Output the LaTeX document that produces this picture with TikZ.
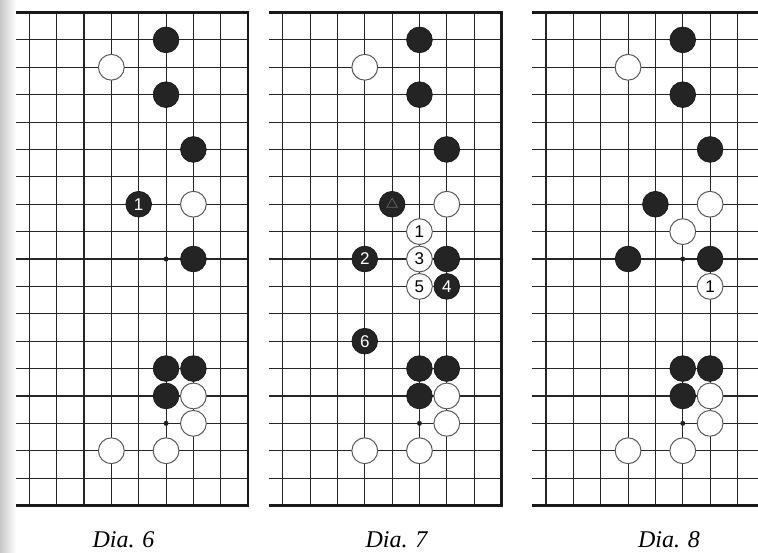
\documentclass[tikz,border=0pt]{standalone}
\usepackage{fontspec}
\setmainfont{Liberation Serif}
\newfontfamily\numfont{Liberation Sans}
\usetikzlibrary{shapes.geometric}
\begin{document}
\begin{tikzpicture}[x=1pt,y=-1pt,
  gridline/.style={black!85, line width=1.1pt},
  edgeline/.style={black!90, line width=2.2pt},
  stonebase/.style={circle, minimum size=25.8pt, inner sep=0pt, font=\numfont\fontsize{17}{17}\selectfont},
  bstone/.style={stonebase, fill=black!86, draw=black!92, line width=0.6pt, text=white},
  wstone/.style={stonebase, fill=white, draw=black!65, line width=1pt, text=black},
  hoshi/.style={circle, fill=black!88, inner sep=0pt, minimum size=5pt},
  caption/.style={font=\itshape\fontsize{24}{24}\selectfont, anchor=base, inner sep=0pt}]
\useasboundingbox (0,0) rectangle (758,553);
\shade[left color=black!22, right color=white] (0,0) rectangle (16,553);

% ---------- Dia. 6 ----------
\begin{scope}[shift={(29.3,12.5)}, x=27.35pt, y=-27.39pt]
  \foreach \r in {1,...,17} \draw[gridline] (-0.5,\r) -- (8,\r);
  \foreach \c in {0,...,7} \draw[gridline] (\c,0) -- (\c,18);
  \draw[edgeline] (-0.5,0) -- (8,0) -- (8,18) -- (-0.5,18);
  \foreach \r [count=\i] in {3,9,15} \node[hoshi] (ah\i) at (5,\r) {};
  \foreach \c/\r/\n [count=\i] in {5/1/{},5/3/{},6/5/{},4/7/1,6/9/{},5/13/{},6/13/{},5/14/{}}
    \node[bstone] (ab\i) at (\c,\r) {\n};
  \foreach \c/\r/\n [count=\i] in {3/2/{},6/7/{},6/14/{},6/15/{},3/16/{},5/16/{}}
    \node[wstone] (aw\i) at (\c,\r) {\n};
\end{scope}

% ---------- Dia. 7 ----------
\begin{scope}[shift={(282.7,12.5)}, x=27.35pt, y=-27.39pt]
  \foreach \r in {1,...,17} \draw[gridline] (-0.5,\r) -- (8,\r);
  \foreach \c in {0,...,7} \draw[gridline] (\c,0) -- (\c,18);
  \draw[edgeline] (-0.5,0) -- (8,0) -- (8,18) -- (-0.5,18);
  \foreach \r [count=\i] in {3,9,15} \node[hoshi] (bh\i) at (5,\r) {};
  \foreach \c/\r/\n [count=\i] in {5/1/{},5/3/{},6/5/{},4/7/{},3/9/2,6/9/{},6/10/4,3/12/6,5/13/{},6/13/{},5/14/{}}
    \node[bstone] (bb\i) at (\c,\r) {\n};
  \node[draw=black!60, line width=0.7pt, regular polygon, regular polygon sides=3,
        minimum size=12pt, inner sep=0pt] (btri) at (bb4) {};
  \foreach \c/\r/\n [count=\i] in {3/2/{},6/7/{},5/8/1,5/9/3,5/10/5,6/14/{},6/15/{},3/16/{},5/16/{}}
    \node[wstone] (bw\i) at (\c,\r) {\n};
\end{scope}

% ---------- Dia. 8 ----------
\begin{scope}[shift={(546,12.5)}, x=27.35pt, y=-27.39pt]
  \foreach \r in {1,...,17} \draw[gridline] (-0.5,\r) -- (7.8,\r);
  \foreach \c in {0,...,7} \draw[gridline] (\c,0) -- (\c,18);
  \draw[edgeline] (-0.5,0) -- (7.8,0);
  \draw[edgeline] (-0.5,18) -- (7.8,18);
  \foreach \r [count=\i] in {3,9,15} \node[hoshi] (ch\i) at (5,\r) {};
  \foreach \c/\r/\n [count=\i] in {5/1/{},5/3/{},6/5/{},4/7/{},3/9/{},6/9/{},5/13/{},6/13/{},5/14/{}}
    \node[bstone] (cb\i) at (\c,\r) {\n};
  \foreach \c/\r/\n [count=\i] in {3/2/{},6/7/{},5/8/{},6/10/1,6/14/{},6/15/{},3/16/{},5/16/{}}
    \node[wstone] (cw\i) at (\c,\r) {\n};
\end{scope}

% ---------- captions ----------
\node[caption] (cap6) at (123.5,547) {Dia. 6};
\node[caption] (cap7) at (396.5,547) {Dia. 7};
\node[caption] (cap8) at (669,547) {Dia. 8};
\end{tikzpicture}
\end{document}
